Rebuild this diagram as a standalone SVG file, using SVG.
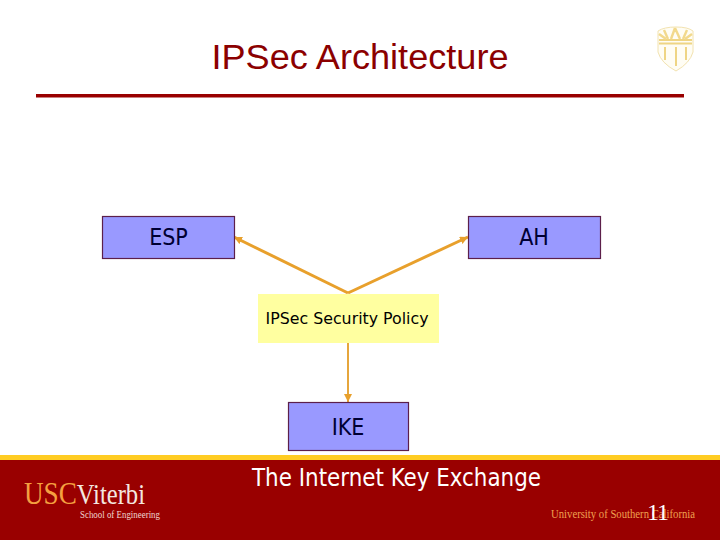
<svg xmlns="http://www.w3.org/2000/svg" width="720" height="540" viewBox="0 0 720 540">
<style>
.box{fill:#9999ff;stroke:#5c1f4a;stroke-width:1.2}
.lbl{font-family:"DejaVu Sans Condensed","DejaVu Sans",sans-serif;fill:#000033;text-anchor:middle}
.wire{fill:none;stroke:#e8a02c;stroke-width:3}
.wire2{fill:none;stroke:#e6a63c;stroke-width:2}
.ser{font-family:"Liberation Serif",serif}
</style>
<defs>
<marker id="ah" markerUnits="userSpaceOnUse" markerWidth="10" markerHeight="10" refX="8" refY="4" orient="auto"><path d="M0 0L8 4L0 8Z" fill="#e8a02c"/></marker>
</defs>
<rect width="720" height="540" fill="#fff"/>
<g id="footer">
<rect x="0" y="455" width="720" height="5" fill="#ffcc22"/>
<rect x="0" y="460" width="720" height="80" fill="#990000"/>
<text class="ser" x="24" y="504" textLength="121" lengthAdjust="spacingAndGlyphs"><tspan font-size="32" fill="#f5a040">USC</tspan><tspan font-size="29" fill="#f4e8e0">Viterbi</tspan></text>
<text class="ser" x="80" y="518" font-size="9.500" fill="#f0d8d0" textLength="80" lengthAdjust="spacingAndGlyphs">School of Engineering</text>
<text class="ser" x="551" y="518" font-size="11.500" fill="#f0a050" textLength="144" lengthAdjust="spacingAndGlyphs">University of Southern California</text>
</g>
<g id="title">
<text x="360" y="69" font-family="'Liberation Sans',sans-serif" font-size="35" fill="#8b0000" text-anchor="middle" textLength="297" lengthAdjust="spacingAndGlyphs">IPSec Architecture</text>
<rect x="36" y="94" width="648" height="3.500" fill="#990000"/>
</g>
<g id="shield" opacity="0.8">
<path d="M658 31Q664 27 676 27Q688 27 693 31L693 52Q690 63 676 71Q661 63 658 52Z" fill="#fffdf2" stroke="#f0dc9c" stroke-width="1"/>
<path d="M659 40L692 40M659 43.500L692 43.500" stroke="#eccb66" stroke-width="2.200"/>
<path d="M675 28L671 39M675 28L680 39M664 30L668 39M687 30L683 39M659 34L666 39M692 34L685 39" stroke="#f0d070" stroke-width="2.400"/>
<path d="M665 47L665 60M676 47L676 66M686 47L686 60" fill="none" stroke="#eccb66" stroke-width="2"/>
</g>
<g id="connectors">
<path class="wire" d="M348 293L234 237" marker-end="url(#ah)"/>
<path class="wire" d="M348 293L468 237" marker-end="url(#ah)"/>
<path class="wire2" d="M348 343L348 402" marker-end="url(#ah)"/>
</g>
<g id="esp">
<rect class="box" x="102.500" y="216.500" width="132" height="42"/>
<text class="lbl" x="168.500" y="245" font-size="23">ESP</text>
</g>
<g id="ah-node">
<rect class="box" x="468.500" y="216.500" width="132" height="42"/>
<text class="lbl" x="534" y="245" font-size="23">AH</text>
</g>
<g id="policy">
<rect x="258" y="294" width="181" height="49" fill="#ffffa0"/>
<text x="347" y="324" font-family="'DejaVu Sans Condensed','DejaVu Sans',sans-serif" font-size="16.500" fill="#000" text-anchor="middle" textLength="163" lengthAdjust="spacingAndGlyphs">IPSec Security Policy</text>
</g>
<g id="ike">
<rect class="box" x="288.500" y="402.500" width="120" height="48"/>
<text class="lbl" x="348" y="435" font-size="23">IKE</text>
</g>
<g id="caption">
<text x="396.500" y="486" font-family="'DejaVu Sans Condensed','DejaVu Sans',sans-serif" font-size="24" fill="#fff" text-anchor="middle" textLength="289" lengthAdjust="spacingAndGlyphs">The Internet Key Exchange</text>
<text class="ser" x="647" y="520" font-size="24" fill="#fff" textLength="22" lengthAdjust="spacing">11</text>
</g>
</svg>
